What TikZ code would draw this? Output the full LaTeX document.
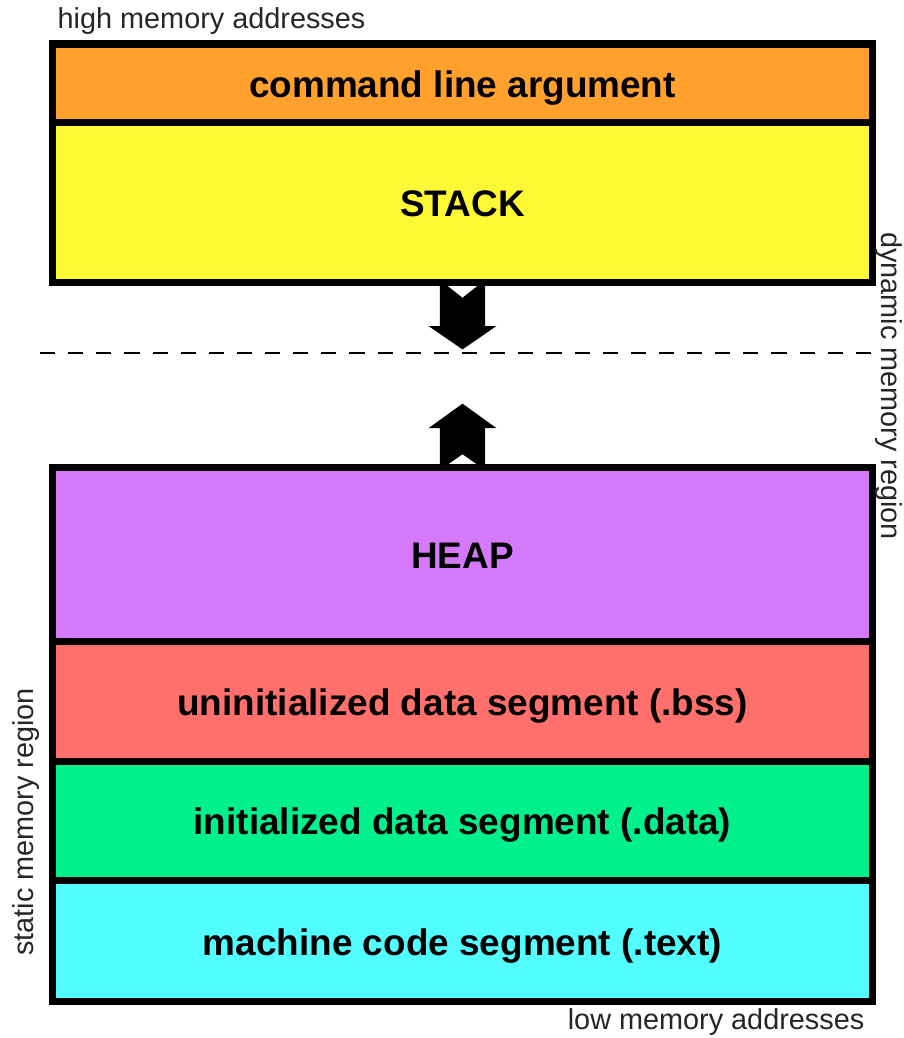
\documentclass[tikz,border=0pt]{standalone}
\usepackage{fontspec}
\setmainfont{Liberation Sans}
\usetikzlibrary{positioning}
\definecolor{argorange}{RGB}{255,161,44}
\definecolor{stackyellow}{RGB}{255,248,52}
\definecolor{heappurple}{RGB}{212,121,250}
\definecolor{bssred}{RGB}{255,112,108}
\definecolor{datagreen}{RGB}{0,241,140}
\definecolor{textcyan}{RGB}{82,253,255}
\begin{document}
\begin{tikzpicture}[x=0.01cm, y=-0.01cm,
    seg/.style={draw, line width=2pt, minimum width=8.2cm, outer sep=0pt, inner sep=0pt,
      text height=8pt, text depth=0pt, font=\fontsize{10.5}{12}\selectfont\bfseries},
    addr/.style={font=\fontsize{8.2}{10}\selectfont, text=black!85, inner sep=0pt},
    growarrow/.style={draw, fill=black, line width=0.6pt, line join=miter}]
  \useasboundingbox (0,0) rectangle (904,1038);

  % dynamic region
  \node[seg, fill=argorange, minimum height=0.78cm] (args) at (462.5,83) {command line argument};
  \node[seg, fill=stackyellow, minimum height=1.6cm, below=0pt of args] (stack) {STACK};

  % static region
  \node[seg, fill=heappurple, minimum height=1.73cm] (heap) at (462.5,554.5) {HEAP};
  \node[seg, fill=bssred, minimum height=1.2cm, below=0pt of heap] (bss) {uninitialized data segment (.bss)};
  \node[seg, fill=datagreen, minimum height=1.19cm, below=0pt of bss] (data) {initialized data segment (.data)};
  \node[seg, fill=textcyan, minimum height=1.215cm, below=0pt of data] (text) {machine code segment (.text)};

  % growth arrows
  \begin{scope}[shift={(stack.south)}]
    \filldraw[growarrow] (-21.5,0) -- (-21.5,45) -- (-30.5,45) -- (0,66) -- (30.5,45)
      -- (21.5,45) -- (21.5,0) -- (0,17) -- cycle;
  \end{scope}
  \begin{scope}[shift={(heap.north)}]
    \filldraw[growarrow] (-21.5,0) -- (-21.5,-41) -- (-30.5,-41) -- (0,-63) -- (30.5,-41)
      -- (21.5,-41) -- (21.5,0) -- (0,-15) -- cycle;
  \end{scope}

  \coordinate (dashL) at (40,353);
  \coordinate (dashR) at (882,353);
  \draw[dashed, dash pattern=on 4.3pt off 3.7pt, line width=0.7pt] (dashL) -- (dashR);

  \node[addr, anchor=base west] (high) at (57,28) {high memory addresses};
  \node[addr, anchor=base east] (low) at (865,1029) {low memory addresses};
  \node[addr, rotate=-90] (dynamic) at (889,386) {dynamic memory region};
  \node[addr, rotate=90] (static) at (26,822) {static memory region};
\end{tikzpicture}
\end{document}
